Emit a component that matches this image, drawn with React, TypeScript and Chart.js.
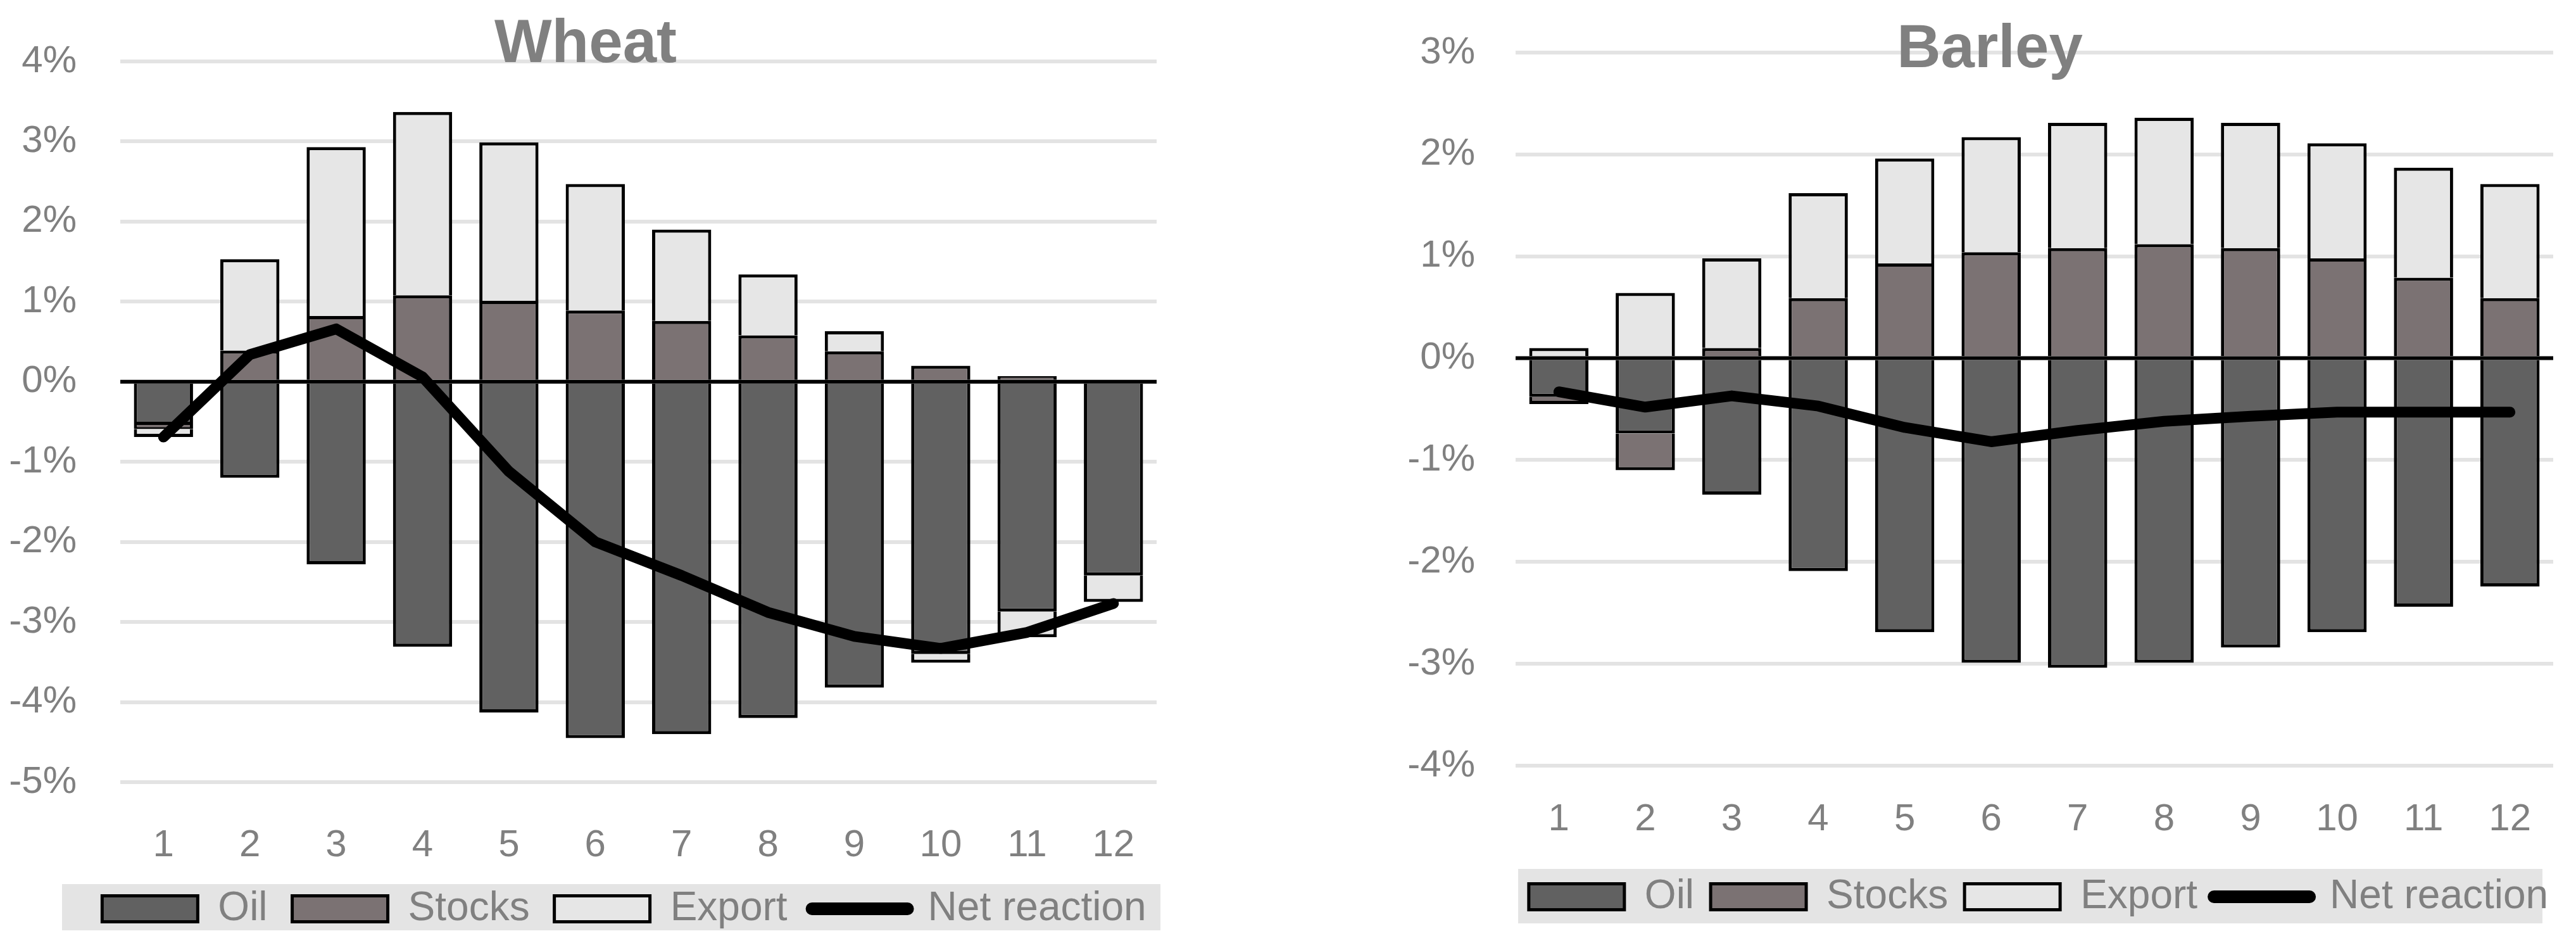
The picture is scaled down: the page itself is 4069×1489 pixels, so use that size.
import React, { useEffect, useRef } from 'react';
import { Chart, registerables } from 'chart.js';

Chart.register(...registerables);

// ---------- data ----------
const months = ['1', '2', '3', '4', '5', '6', '7', '8', '9', '10', '11', '12'];
const seriesNames = ['Oil', 'Stocks', 'Export', 'Net reaction'];

const wheatOil = [-0.54, -1.2, -2.28, -3.31, -4.13, -4.45, -4.4, -4.2, -3.82, -3.4, -2.87, -2.42];
const wheatStocks = [-0.05, 0.39, 0.82, 1.08, 1.01, 0.89, 0.76, 0.58, 0.38, 0.2, 0.07, 0];
const wheatExport = [-0.1, 1.14, 2.11, 2.29, 1.98, 1.58, 1.14, 0.76, 0.25, -0.11, -0.32, -0.33];
const wheatNet = [-0.69, 0.34, 0.66, 0.06, -1.12, -2.0, -2.42, -2.88, -3.18, -3.33, -3.13, -2.77];

const barleyOil = [-0.38, -0.74, -1.34, -2.09, -2.69, -2.99, -3.04, -2.99, -2.84, -2.69, -2.44, -2.24];
const barleyStocks = [-0.07, -0.36, 0.1, 0.59, 0.93, 1.04, 1.08, 1.12, 1.08, 0.98, 0.79, 0.59];
const barleyExport = [0.1, 0.64, 0.88, 1.03, 1.03, 1.13, 1.23, 1.24, 1.23, 1.13, 1.08, 1.12];
const barleyNet = [-0.33, -0.48, -0.37, -0.47, -0.68, -0.82, -0.71, -0.62, -0.57, -0.53, -0.53, -0.53];

const wheatAxis = [-5, 4];
const barleyAxis = [-4, 3];

// ---------- styles ----------
const FONT = '"Liberation Sans", Arial, sans-serif';
const GRAY = '#808080';
const OIL_COLOR = '#616161';
const STOCKS_COLOR = '#7b7273';
const EXPORT_COLOR = '#e6e6e6';
const GRID_COLOR = '#e3e3e3';
const LEGEND_BG = '#e4e4e4';
const TICK_SIZE = 60;
const TITLE_SIZE = 96;
const TITLE_LH = 0.8;
const LEGEND_SIZE = 64;
const CANVAS_H = 1489;

const wheatLayout = {
  canvasLeft: 0, canvasWidth: 1880,
  areaLeft: 190, areaRight: 1827, areaTop: 97, areaBottom: 1235,
  yLabelGap: 69, xLabelPad: 64,
  titleX: 925, titleY: 72,
  legendX: 986, legendY: 1435, legendPad: 39,
  bg: [98, 1396, 1833, 1469],
};

const barleyLayout = {
  canvasLeft: 2180, canvasWidth: 1889,
  areaLeft: 214, areaRight: 1853, areaTop: 83, areaBottom: 1209,
  yLabelGap: 64, xLabelPad: 49,
  titleX: 963, titleY: 80,
  legendX: 1040, legendY: 1416, legendPad: 26,
  bg: [218, 1372, 1836, 1458],
};

const layoutPlugin = {
  id: 'customLayout',
  afterLayout(chart: any, _a: any, opts: any) {
    const t = chart.titleBlock;
    if (t) {
      const w = 1200;
      const lh = TITLE_SIZE * TITLE_LH;
      t.left = opts.titleX - w / 2;
      t.right = t.left + w;
      t.width = w;
      t.top = opts.titleY - lh / 2;
      t.bottom = t.top + lh;
    }
    const lg = chart.legend;
    if (lg) {
      const w = 2400;
      lg.left = opts.legendX - w / 2;
      lg.right = lg.left + w;
      lg.width = w;
      lg.top = opts.legendY - opts.legendPad - LEGEND_SIZE / 2;
      lg.bottom = lg.top + lg.height;
    }
  },
  beforeDraw(chart: any, _a: any, opts: any) {
    const ctx = chart.ctx;
    const [x1, y1, x2, y2] = opts.bg;
    ctx.save();
    ctx.fillStyle = LEGEND_BG;
    ctx.fillRect(x1, y1, x2 - x1, y2 - y1);
    ctx.restore();
  },
  beforeDatasetDraw(chart: any, args: any) {
    const ds = chart.data.datasets[args.index];
    if (ds.type !== 'line') return;
    const y = chart.scales.y.getPixelForValue(0);
    const ctx = chart.ctx;
    ctx.save();
    ctx.strokeStyle = '#000';
    ctx.lineWidth = 6;
    ctx.beginPath();
    ctx.moveTo(chart.chartArea.left, y);
    ctx.lineTo(chart.chartArea.right, y);
    ctx.stroke();
    ctx.restore();
  },
};

function makeConfig(title: string, oil: number[], stocks: number[], exp: number[], net: number[], axis: number[], L: any) {
  const legendHeight = LEGEND_SIZE + L.legendPad + 10;
  const barCommon = {
    type: 'bar',
    borderColor: '#000',
    borderWidth: 5,
    borderSkipped: 'start',
    barPercentage: 0.685,
    categoryPercentage: 1,
    stack: 'bars',
  };
  return {
    type: 'bar',
    data: {
      labels: months,
      datasets: [
        { ...barCommon, label: seriesNames[0], data: oil, backgroundColor: OIL_COLOR },
        { ...barCommon, label: seriesNames[1], data: stocks, backgroundColor: STOCKS_COLOR },
        { ...barCommon, label: seriesNames[2], data: exp, backgroundColor: EXPORT_COLOR },
        {
          type: 'line', label: seriesNames[3], data: net,
          borderColor: '#000', backgroundColor: '#000', borderWidth: 17,
          pointRadius: 0, tension: 0, order: -1, stack: 'net',
          borderCapStyle: 'round', borderJoinStyle: 'round',
        },
      ],
    },
    options: {
      responsive: false,
      animation: false,
      devicePixelRatio: 1,
      layout: {
        padding: { left: 0, right: L.canvasWidth - L.areaRight, top: L.areaTop - TITLE_SIZE * TITLE_LH, bottom: 0 },
      },
      scales: {
        x: {
          stacked: true,
          grid: { display: false, drawTicks: false },
          border: { display: false },
          ticks: { font: { family: FONT, size: TICK_SIZE }, color: GRAY, padding: L.xLabelPad, maxRotation: 0, autoSkip: false },
          afterFit: (s: any) => { s.height = CANVAS_H - L.areaBottom - legendHeight; },
        },
        y: {
          stacked: true,
          min: axis[0],
          max: axis[1],
          ticks: {
            stepSize: 1,
            callback: (v: any) => v + '%',
            font: { family: FONT, size: TICK_SIZE },
            color: GRAY,
            padding: 3,
          },
          grid: {
            color: (c: any) => (c.tick && c.tick.value === 0 ? 'rgba(0,0,0,0)' : GRID_COLOR),
            lineWidth: 6,
            drawTicks: true,
            tickLength: L.yLabelGap - 3,
            tickColor: 'rgba(0,0,0,0)',
          },
          border: { display: false },
          afterFit: (s: any) => { s.width = L.areaLeft; },
        },
      },
      plugins: {
        title: {
          display: true, text: title, color: GRAY,
          font: { family: FONT, size: TITLE_SIZE, weight: 'bold', lineHeight: TITLE_LH },
          padding: 0,
        },
        legend: {
          position: 'bottom',
          labels: {
            usePointStyle: true,
            pointStyleWidth: 151,
            boxWidth: 151,
            boxHeight: 41,
            padding: L.legendPad,
            color: GRAY,
            font: { family: FONT, size: LEGEND_SIZE },
            generateLabels: (chart: any) => chart.data.datasets.map((ds: any, i: number) => ({
              text: ds.label,
              datasetIndex: i,
              hidden: false,
              fillStyle: ds.type === 'line' ? '#000' : ds.backgroundColor,
              strokeStyle: '#000',
              lineWidth: ds.type === 'line' ? 20 : 5,
              lineCap: 'round',
              pointStyle: ds.type === 'line' ? 'line' : 'rect',
              fontColor: GRAY,
            })),
          },
        },
        tooltip: { enabled: false },
        customLayout: {
          titleX: L.titleX, titleY: L.titleY,
          legendX: L.legendX, legendY: L.legendY, legendPad: L.legendPad,
          bg: L.bg,
        },
      },
    },
    plugins: [layoutPlugin],
  };
}

function Panel(props: { cfg: any; L: any }) {
  const ref = useRef<HTMLCanvasElement>(null);
  useEffect(() => {
    if (!ref.current) return;
    const chart = new Chart(ref.current, props.cfg as any);
    return () => chart.destroy();
  }, []);
  return (
    <canvas
      ref={ref}
      width={props.L.canvasWidth}
      height={CANVAS_H}
      style={{ position: 'absolute', left: props.L.canvasLeft, top: 0, width: props.L.canvasWidth, height: CANVAS_H }}
    />
  );
}

export default function App() {
  const wheatCfg = makeConfig('Wheat', wheatOil, wheatStocks, wheatExport, wheatNet, wheatAxis, wheatLayout);
  const barleyCfg = makeConfig('Barley', barleyOil, barleyStocks, barleyExport, barleyNet, barleyAxis, barleyLayout);
  return (
    <div style={{ position: 'absolute', left: 0, top: 0, width: 4069, height: CANVAS_H, background: '#fff', overflow: 'hidden' }}>
      <Panel cfg={wheatCfg} L={wheatLayout} />
      <Panel cfg={barleyCfg} L={barleyLayout} />
    </div>
  );
}
